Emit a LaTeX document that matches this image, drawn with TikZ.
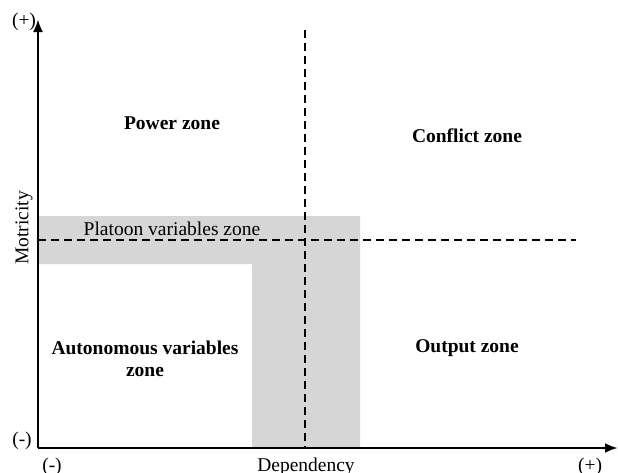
\documentclass[tikz,border=0pt]{standalone}
\usepackage{fontspec}
\setmainfont{Liberation Serif}
\usetikzlibrary{arrows.meta}

\tikzset{
  axis/.style={line width=2.6pt, -{Latex[length=13pt,width=10pt]}},
  divider/.style={line width=1.4pt, dash pattern=on 8pt off 5pt},
  zonelabel/.style={font=\fontsize{19.5}{21.5}\selectfont\bfseries, align=center},
  axislabel/.style={font=\fontsize{19.5}{21.5}\selectfont}
}

\begin{document}
\begin{tikzpicture}[x=1pt, y=-1pt]
    \useasboundingbox (0,0) rectangle (618,472);

    \coordinate (origin) at (38,448);
    \coordinate (ytop) at (38,19);
    \coordinate (xend) at (618,448);
    \coordinate (vtop) at (305,30);
    \coordinate (vbot) at (305,448);
    \coordinate (hleft) at (38,240);
    \coordinate (hright) at (576,240);

    % platoon band
    \fill[black!16] (38,216) -- (360,216) -- (360,448) -- (252,448)
      -- (252,264) -- (38,264) -- cycle;

    \draw[divider] (vtop) -- (vbot);
    \draw[divider] (hleft) -- (hright);

    \draw[axis] (origin) -- (ytop);
    \draw[axis] (origin) -- (xend);

    \node[zonelabel, anchor=base] (power) at (172,129) {Power zone};
    \node[zonelabel, anchor=base] (conflict) at (467,142) {Conflict zone};
    \node[zonelabel, anchor=base] (output) at (467,352) {Output zone};
    \node[zonelabel] (autonomous) at (145,359) {Autonomous variables\\zone};
    \node[axislabel, anchor=base] (platoon) at (172,235) {Platoon variables zone};

    \node[axislabel, rotate=90] (motricity) at (24,228) {Motricity};
    \node[axislabel, anchor=base] (dependency) at (306,471) {Dependency};
    \node[axislabel, anchor=base] (yplus) at (24,26) {(+)};
    \node[axislabel, anchor=base] (yminus) at (22,445) {(-)};
    \node[axislabel, anchor=base] (xminus) at (52,471) {(-)};
    \node[axislabel, anchor=base] (xplus) at (590,471) {(+)};
\end{tikzpicture}
\end{document}
